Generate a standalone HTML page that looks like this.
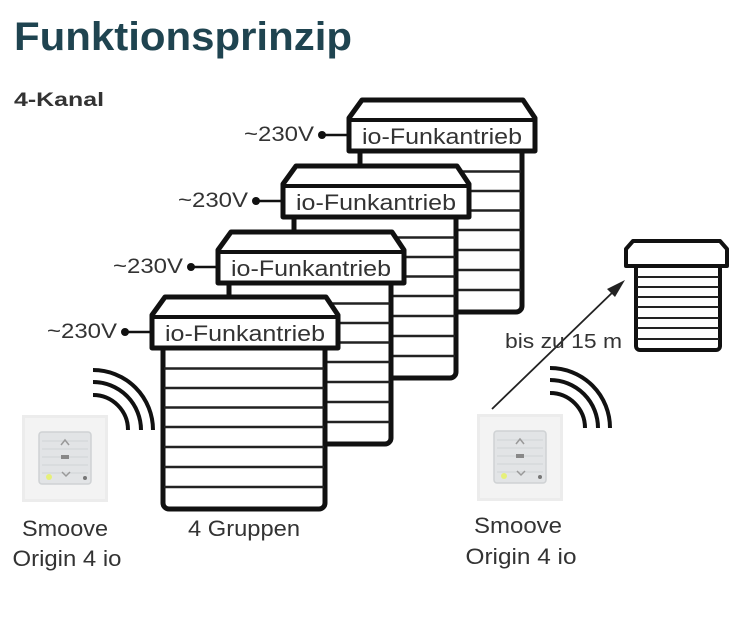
<!DOCTYPE html>
<html><head><meta charset="utf-8"><style>
html,body{margin:0;padding:0;background:#fff;}
svg{display:block}
text{font-family:"Liberation Sans",sans-serif;}
</style></head><body>
<svg width="750" height="625" viewBox="0 0 750 625" xmlns="http://www.w3.org/2000/svg">
<defs>
<g id="unit">
  <rect x="163" y="330" width="162" height="179" rx="6" fill="#fff" stroke="#111" stroke-width="5"/>
  <g stroke="#222" stroke-width="2.5">
    <line x1="164" y1="368.5" x2="324" y2="368.5"/>
    <line x1="164" y1="388" x2="324" y2="388"/>
    <line x1="164" y1="407.5" x2="324" y2="407.5"/>
    <line x1="164" y1="427" x2="324" y2="427"/>
    <line x1="164" y1="447" x2="324" y2="447"/>
    <line x1="164" y1="467" x2="324" y2="467"/>
    <line x1="164" y1="487" x2="324" y2="487"/>
  </g>
  <path d="M165,297 L326,297 L338,315 L338,348 L152,348 L152,315 Z" fill="#fff" stroke="#111" stroke-width="5" stroke-linejoin="round"/>
  <line x1="152" y1="317" x2="338" y2="317" stroke="#111" stroke-width="4"/>
  <text x="245" y="341" font-size="22" fill="#333" text-anchor="middle" textLength="160" lengthAdjust="spacingAndGlyphs">io-Funkantrieb</text>
  <line x1="125" y1="332" x2="152" y2="332" stroke="#111" stroke-width="2.5"/>
  <circle cx="125" cy="332" r="4" fill="#111"/>
  <text x="117" y="338" font-size="21" fill="#333" text-anchor="end" textLength="70" lengthAdjust="spacingAndGlyphs">~230V</text>
</g>
<g id="dev">
  <rect x="0" y="0" width="86" height="87" fill="#ececec"/>
  <rect x="3" y="3" width="80" height="81" fill="#f3f3f3"/>
  <rect x="17" y="17" width="52" height="52" rx="3" fill="#e2e4e6" stroke="#cfd2d4" stroke-width="1.5"/>
  <g stroke="#d0d3d6" stroke-width="1"><line x1="20" y1="26" x2="66" y2="26"/><line x1="20" y1="34" x2="66" y2="34"/><line x1="20" y1="42" x2="66" y2="42"/><line x1="20" y1="50" x2="66" y2="50"/><line x1="20" y1="58" x2="66" y2="58"/></g>
  <path d="M39,30 L43,25 L47,30" fill="none" stroke="#999" stroke-width="1.5"/>
  <rect x="39" y="40" width="8" height="4" fill="#888"/>
  <path d="M40,57 L44,61 L48,57" fill="none" stroke="#999" stroke-width="1.5"/>
  <circle cx="27" cy="62" r="3" fill="#e6f07a"/>
  <circle cx="63" cy="63" r="2" fill="#777"/>
</g>
</defs>

<text x="14" y="50" font-size="40" font-weight="bold" fill="#1f4450" textLength="338" lengthAdjust="spacingAndGlyphs">Funktionsprinzip</text>
<text x="14" y="106" font-size="19" font-weight="bold" fill="#333" textLength="90" lengthAdjust="spacingAndGlyphs">4-Kanal</text>

<use href="#unit" transform="translate(197,-197)"/>
<use href="#unit" transform="translate(131,-131)"/>
<use href="#unit" transform="translate(66,-65)"/>
<use href="#unit"/>

<g fill="none" stroke="#111" stroke-width="4">
  <path d="M93,370 A60,60 0 0 1 153,430"/>
  <path d="M93,382 A48,48 0 0 1 141,430"/>
  <path d="M93,395 A35,35 0 0 1 128,430"/>
  <path d="M550,368 A60,60 0 0 1 610,428"/>
  <path d="M550,380 A48,48 0 0 1 598,428"/>
  <path d="M550,393 A35,35 0 0 1 585,428"/>
</g>

<use href="#dev" transform="translate(22,415)"/>
<use href="#dev" transform="translate(477,414)"/>

<rect x="636" y="262" width="84" height="88" rx="4" fill="#fff" stroke="#111" stroke-width="4"/>
<g stroke="#222" stroke-width="2">
  <line x1="637" y1="277" x2="719" y2="277"/><line x1="637" y1="287" x2="719" y2="287"/>
  <line x1="637" y1="297" x2="719" y2="297"/><line x1="637" y1="307" x2="719" y2="307"/>
  <line x1="637" y1="318" x2="719" y2="318"/><line x1="637" y1="328" x2="719" y2="328"/>
  <line x1="637" y1="339" x2="719" y2="339"/>
</g>
<path d="M633,241 L720,241 L727,249 L727,266 L626,266 L626,249 Z" fill="#fff" stroke="#111" stroke-width="4" stroke-linejoin="round"/>

<line x1="492" y1="409" x2="615" y2="290" stroke="#222" stroke-width="1.8"/>
<path d="M625,280 L607,289 L615,297 Z" fill="#222"/>
<text x="505" y="348" font-size="20" fill="#333" textLength="117" lengthAdjust="spacingAndGlyphs">bis zu 15 m</text>

<text x="65" y="536" font-size="22" fill="#333" text-anchor="middle" textLength="86" lengthAdjust="spacingAndGlyphs">Smoove</text>
<text x="67" y="566" font-size="22" fill="#333" text-anchor="middle" textLength="109" lengthAdjust="spacingAndGlyphs">Origin 4 io</text>
<text x="188" y="536" font-size="22" fill="#333" textLength="112" lengthAdjust="spacingAndGlyphs">4 Gruppen</text>
<text x="518" y="533" font-size="22" fill="#333" text-anchor="middle" textLength="88" lengthAdjust="spacingAndGlyphs">Smoove</text>
<text x="521" y="564" font-size="22" fill="#333" text-anchor="middle" textLength="111" lengthAdjust="spacingAndGlyphs">Origin 4 io</text>
</svg>
</body></html>
